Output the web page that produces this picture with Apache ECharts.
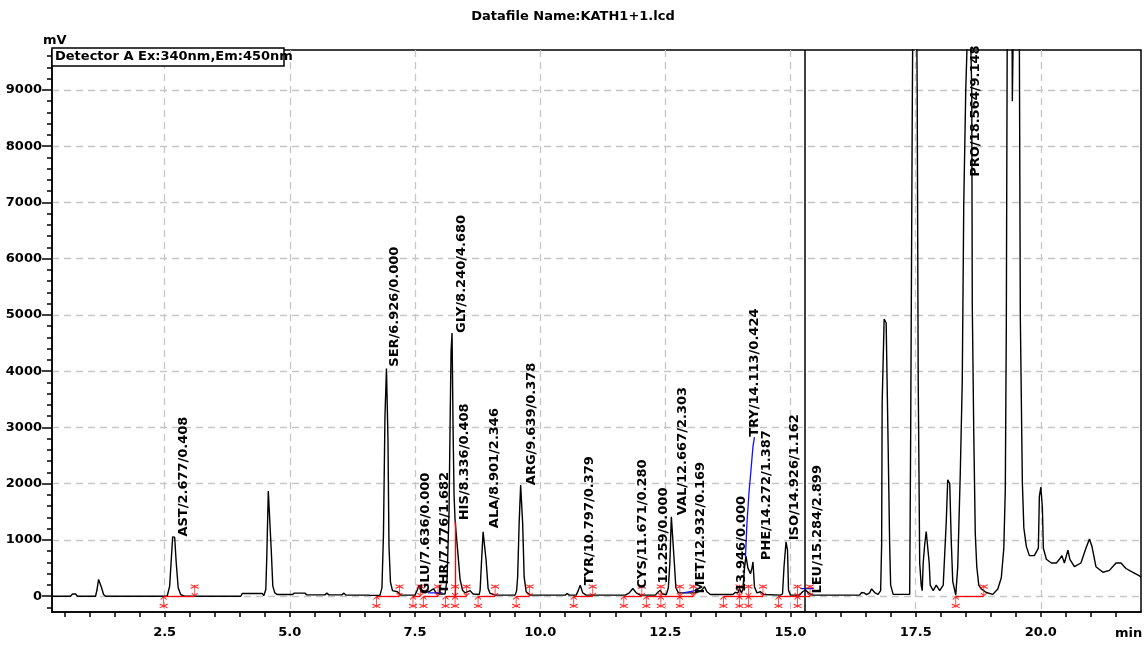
<!DOCTYPE html>
<html><head><meta charset="utf-8">
<script src="https://cdn.jsdelivr.net/npm/echarts/dist/echarts.min.js"></script>
<style>html,body{margin:0;padding:0;background:#fff}#c{width:1146px;height:649px}</style>
</head><body><div id="c"></div>
<script>
const chartTitle = 'Datafile Name:KATH1+1.lcd';
const detectorText = 'Detector A Ex:340nm,Em:450nm';
const yUnit = 'mV';
const xUnit = 'min';
const xRange = [0.25, 22];
const yRange = [-280, 9710];
const xLabelValues = [2.5, 5, 7.5, 10, 12.5, 15, 17.5, 20];
const yLabelValues = [0, 1000, 2000, 3000, 4000, 5000, 6000, 7000, 8000, 9000];
const markerTime = 15.284;

// chromatogram trace [time (min), signal (mV)]
const trace = [
 [0.25,0],[0.62,0],[0.66,40],[0.69,74],[0.72,40],[0.76,0],
 [1.12,0],[1.15,120],[1.18,300],[1.21,322],[1.24,150],[1.28,30],[1.32,0],
 [2.55,0],[2.60,180],[2.63,620],[2.66,1055],[2.70,1050],[2.73,610],[2.77,150],[2.82,30],[2.90,0],
 [4.02,0],[4.05,50],[4.45,50],[4.48,10],[4.52,120],[4.54,700],[4.57,1870],[4.60,1860],[4.63,800],[4.66,180],[4.70,60],[4.75,30],
 [5.05,30],[5.09,55],[5.30,55],[5.34,25],[5.70,25],[5.74,55],[5.78,25],[6.04,25],[6.08,55],[6.12,20],[6.55,20],[6.58,55],[6.62,15],[6.80,15],
 [6.84,150],[6.87,1100],[6.90,3200],[6.93,4050],[6.96,2800],[6.98,900],[7.01,250],[7.05,100],[7.15,80],[7.22,20],
 [7.50,20],[7.55,120],[7.58,200],[7.62,80],[7.70,60],[7.80,90],[7.87,134],[7.92,60],[8.00,40],[8.10,40],
 [8.14,300],[8.18,1500],[8.20,3000],[8.22,4350],[8.24,4680],[8.26,3010],[8.28,1800],[8.30,1350],[8.33,1320],[8.36,730],[8.40,300],[8.45,107],[8.50,60],[8.60,100],[8.66,40],[8.78,30],
 [8.80,100],[8.83,640],[8.86,1144],[8.89,1175],[8.92,640],[8.96,140],[9.00,50],[9.10,20],[9.50,20],
 [9.53,100],[9.55,343],[9.58,1300],[9.61,1975],[9.65,1300],[9.68,343],[9.72,80],[9.80,20],
 [10.50,20],[10.54,50],[10.58,20],[10.72,20],[10.76,100],[10.80,195],[10.85,60],[10.92,20],
 [11.70,20],[11.78,60],[11.85,137],[11.92,60],[12.00,20],[12.30,20],[12.36,80],[12.40,107],[12.44,40],[12.52,30],
 [12.56,150],[12.59,587],[12.62,1411],[12.65,1440],[12.68,587],[12.71,150],[12.76,60],[12.90,60],[13.10,60],[13.22,100],[13.28,170],[13.33,80],[13.40,30],
 [13.85,30],[13.90,70],[13.95,60],[13.98,140],[14.02,60],
 [14.05,120],[14.08,500],[14.11,714],[14.15,500],[14.20,400],[14.23,500],[14.25,610],[14.28,166],[14.33,60],[14.40,80],[14.43,107],[14.47,30],[14.80,20],
 [14.84,40],[14.87,521],[14.91,966],[14.94,818],[14.96,107],[15.00,20],
 [15.18,20],[15.24,80],[15.30,110],[15.36,60],[15.44,20],[16.38,20],
 [16.42,66],[16.47,60],[16.52,30],[16.58,60],[16.62,131],[16.65,164],[16.68,66],[16.75,33],[16.80,100],
 [16.82,920],[16.83,3417],[16.87,4928],[16.91,4862],[16.95,2661],[16.98,920],[17.00,197],[17.05,33],[17.38,33],
 [17.40,2891],[17.43,8311],[17.45,11500],[17.51,11500],[17.53,9000],[17.55,3876],[17.58,591],[17.61,197],[17.63,100],
 [17.65,591],[17.68,920],[17.71,1150],[17.74,1117],[17.77,591],[17.79,197],[17.85,99],[17.91,197],[17.98,99],[18.05,197],
 [18.11,1314],[18.14,2070],[18.18,2004],[18.21,985],[18.24,263],[18.30,20],
 [18.34,525],[18.39,2168],[18.43,3810],[18.46,6965],[18.50,9000],[18.54,10200],[18.59,10200],[18.62,9000],[18.63,5190],[18.66,2891],[18.69,1117],[18.72,525],[18.76,197],[18.81,130],[18.91,66],[19.04,33],
 [19.14,130],[19.21,328],[19.26,854],[19.29,1905],[19.31,4796],[19.33,10500],[19.42,11500],[19.43,8800],[19.46,8800],[19.47,11500],[19.56,10500],[19.57,10000],
 [19.59,4960],[19.63,2036],[19.66,1215],[19.71,887],[19.77,722],[19.87,722],[19.95,854],[19.97,1774],[20.00,1938],[20.03,1577],[20.05,854],[20.11,657],
 [20.21,591],[20.31,591],[20.37,657],[20.42,722],[20.47,591],[20.54,821],[20.58,657],[20.67,525],[20.80,591],[20.90,854],[20.97,1018],[21.02,887],[21.10,525],
 [21.24,427],[21.37,460],[21.50,591],[21.60,591],[21.70,493],[21.83,427],[21.97,361],[22.00,340]
];

// integration events (red)
const peakStarts = [2.48,6.73,7.46,7.67,8.11,8.30,8.76,9.52,10.67,11.67,12.12,12.41,12.79,13.66,13.98,14.16,14.76,15.14,18.30];
const peakEnds   = [3.10,7.19,7.61,7.96,8.30,8.53,9.10,9.79,11.05,12.03,12.41,12.79,13.06,13.98,14.16,14.45,15.14,15.39,18.86];
const dropLine = [8.30, 1320];

// blue baselines
const blueSegments = [
 [[7.76,60],[8.05,60]],
 [[12.86,60],[13.15,110]],
 [[14.10,700],[14.13,1300],[14.17,1830],[14.21,2240],[14.25,2660],[14.28,2830]],
 [[15.20,137],[15.46,137]]
];

// peak annotations
const labelTexts = ['AST/2.677/0.408','SER/6.926/0.000','GLU/7.636/0.000','THR/7.776/1.682','GLY/8.240/4.680','HIS/8.336/0.408','ALA/8.901/2.346','ARG/9.639/0.378','TYR/10.797/0.379','CYS/11.671/0.280','12.259/0.000','VAL/12.667/2.303','MET/12.932/0.169','13.946/0.000','TRY/14.113/0.424','PHE/14.272/1.387','ISO/14.926/1.162','LEU/15.284/2.899','PRO/18.564/9.148'];
const labelTimes  = [2.88,7.10,7.72,8.10,8.44,8.49,9.09,9.82,10.98,12.05,12.46,12.85,13.21,14.03,14.28,14.53,15.09,15.55,18.70];
const labelLevels = [1060,4080,50,50,4680,1350,1210,1975,195,137,225,1440,50,75,2833,640,996,48,7457];

const xMinorTicks = []; for (let i = 1; i <= 43; i++) xMinorTicks.push(i / 2);
const yMinorTicks = []; for (let i = -1; i <= 48; i++) yMinorTicks.push(i * 200);

const FONT = 'DejaVu Sans';
const txt = {color:'#000', fontFamily:FONT, fontWeight:'bold', fontSize:13};
const gridLine = {show:true, lineStyle:{color:'#c6c6c6', type:[7,5], width:1.3}};

const chart = echarts.init(document.getElementById('c'), null, {renderer:'canvas'});
const series = [
 {type:'line', name:'trace', xAxisIndex:0, yAxisIndex:0, data:trace, symbol:'none', showSymbol:false, clip:true,
  lineStyle:{color:'#000', width:1.4}, z:3,
  markLine:{silent:true, symbol:['none','none'], label:{show:false}, lineStyle:{color:'#000', width:1.5, type:'solid'}, data:[{xAxis:markerTime}]}},
 {type:'scatter', name:'starts', xAxisIndex:0, yAxisIndex:0, data:peakStarts.map(t => [t, 0]),
  symbol:'path://M5 0 L5 12 M2 3 L5 0 L8 3 M1 8 L9 12 M9 8 L1 12', symbolSize:[8,11], symbolOffset:[0,6],
  itemStyle:{color:'transparent', borderColor:'#ff0000', borderWidth:1}, z:4,
  markLine:{silent:true, symbol:['none','none'], label:{show:false}, lineStyle:{color:'#ff0000', width:1.3, type:'solid'},
   data: peakStarts.map((t,i) => [{coord:[t,0]},{coord:[peakEnds[i],0]}]).concat([[{coord:[dropLine[0],0]},{coord:[dropLine[0],dropLine[1]]}]])}},
 {type:'scatter', name:'ends', xAxisIndex:0, yAxisIndex:0, data:peakEnds.map(t => [t, 0]),
  symbol:'path://M5 12 L5 0 M2 9 L5 12 L8 9 M1 0 L9 4 M9 0 L1 4', symbolSize:[8,11], symbolOffset:[0,-6],
  itemStyle:{color:'transparent', borderColor:'#ff0000', borderWidth:1}, z:4}
];
blueSegments.forEach((seg, k) => series.push({type:'line', name:'blue'+k, xAxisIndex:0, yAxisIndex:0, data:seg, symbol:'none',
  lineStyle:{color:'#1010ff', width:1.3}, z:4}));
series.push({type:'scatter', name:'labels', xAxisIndex:0, yAxisIndex:0, symbolSize:0, z:6,
  data: labelTimes.map((t,i) => [t, labelLevels[i], labelTexts[i]]),
  label:{show:true, position:'inside', rotate:90, align:'left', verticalAlign:'middle', formatter: p => p.data[2],
   textBorderWidth:0, textBorderColor:'transparent', opacity:1, ...txt}});

chart.setOption({
 animation:false,
 backgroundColor:'#fff',
 title:{text:chartTitle, left:'center', top:5, textStyle:{...txt}},
 grid:{left:52, top:50, width:1089, height:562, show:true, borderColor:'#000', borderWidth:1.5, backgroundColor:'transparent', outerBoundsMode:'none'},
 xAxis:[
  {type:'value', min:xRange[0], max:xRange[1], position:'bottom',
   axisLine:{show:true, onZero:false, lineStyle:{color:'#000', width:1.5}},
   axisTick:{show:true, length:5, customValues:xMinorTicks, lineStyle:{color:'#000', width:1.5}},
   axisLabel:{show:true, customValues:xLabelValues, formatter: v => Number(v).toFixed(1), margin:14, ...txt},
   splitLine:{show:false}},
  {type:'value', min:xRange[0], max:xRange[1], position:'bottom',
   axisLine:{show:false, onZero:false}, axisTick:{show:false, customValues:xLabelValues},
   axisLabel:{show:false, customValues:xLabelValues}, splitLine:gridLine}
 ],
 yAxis:[
  {type:'value', min:yRange[0], max:yRange[1], position:'left',
   axisLine:{show:true, onZero:false, lineStyle:{color:'#000', width:1.5}},
   axisTick:{show:true, length:5, customValues:yMinorTicks, lineStyle:{color:'#000', width:1.5}},
   axisLabel:{show:true, customValues:yLabelValues, formatter: v => String(Math.round(v)), margin:10, ...txt},
   splitLine:{show:false}},
  {type:'value', min:yRange[0], max:yRange[1], position:'left', offset:0,
   axisLine:{show:false, onZero:false}, axisTick:{show:true, length:10, customValues:yLabelValues, lineStyle:{color:'#000', width:1.5}},
   axisLabel:{show:false, customValues:yLabelValues}, splitLine:gridLine}
 ],
 graphic:[
  {type:'rect', z:100, shape:{x:52, y:48, width:232, height:18}, style:{fill:'#fff', stroke:'#000', lineWidth:1.5}},
  {type:'text', z:101, x:55, y:57, style:{text:detectorText, fill:'#000', font:'bold 13px "DejaVu Sans"', textVerticalAlign:'middle', verticalAlign:'middle'}},
  {type:'text', z:101, x:43, y:41, style:{text:yUnit, fill:'#000', font:'bold 13px "DejaVu Sans"', textVerticalAlign:'middle', verticalAlign:'middle'}},
  {type:'text', z:101, x:1115, y:634, style:{text:xUnit, fill:'#000', font:'bold 13px "DejaVu Sans"', textVerticalAlign:'middle', verticalAlign:'middle'}}
 ],
 series: series
});
</script></body></html>
